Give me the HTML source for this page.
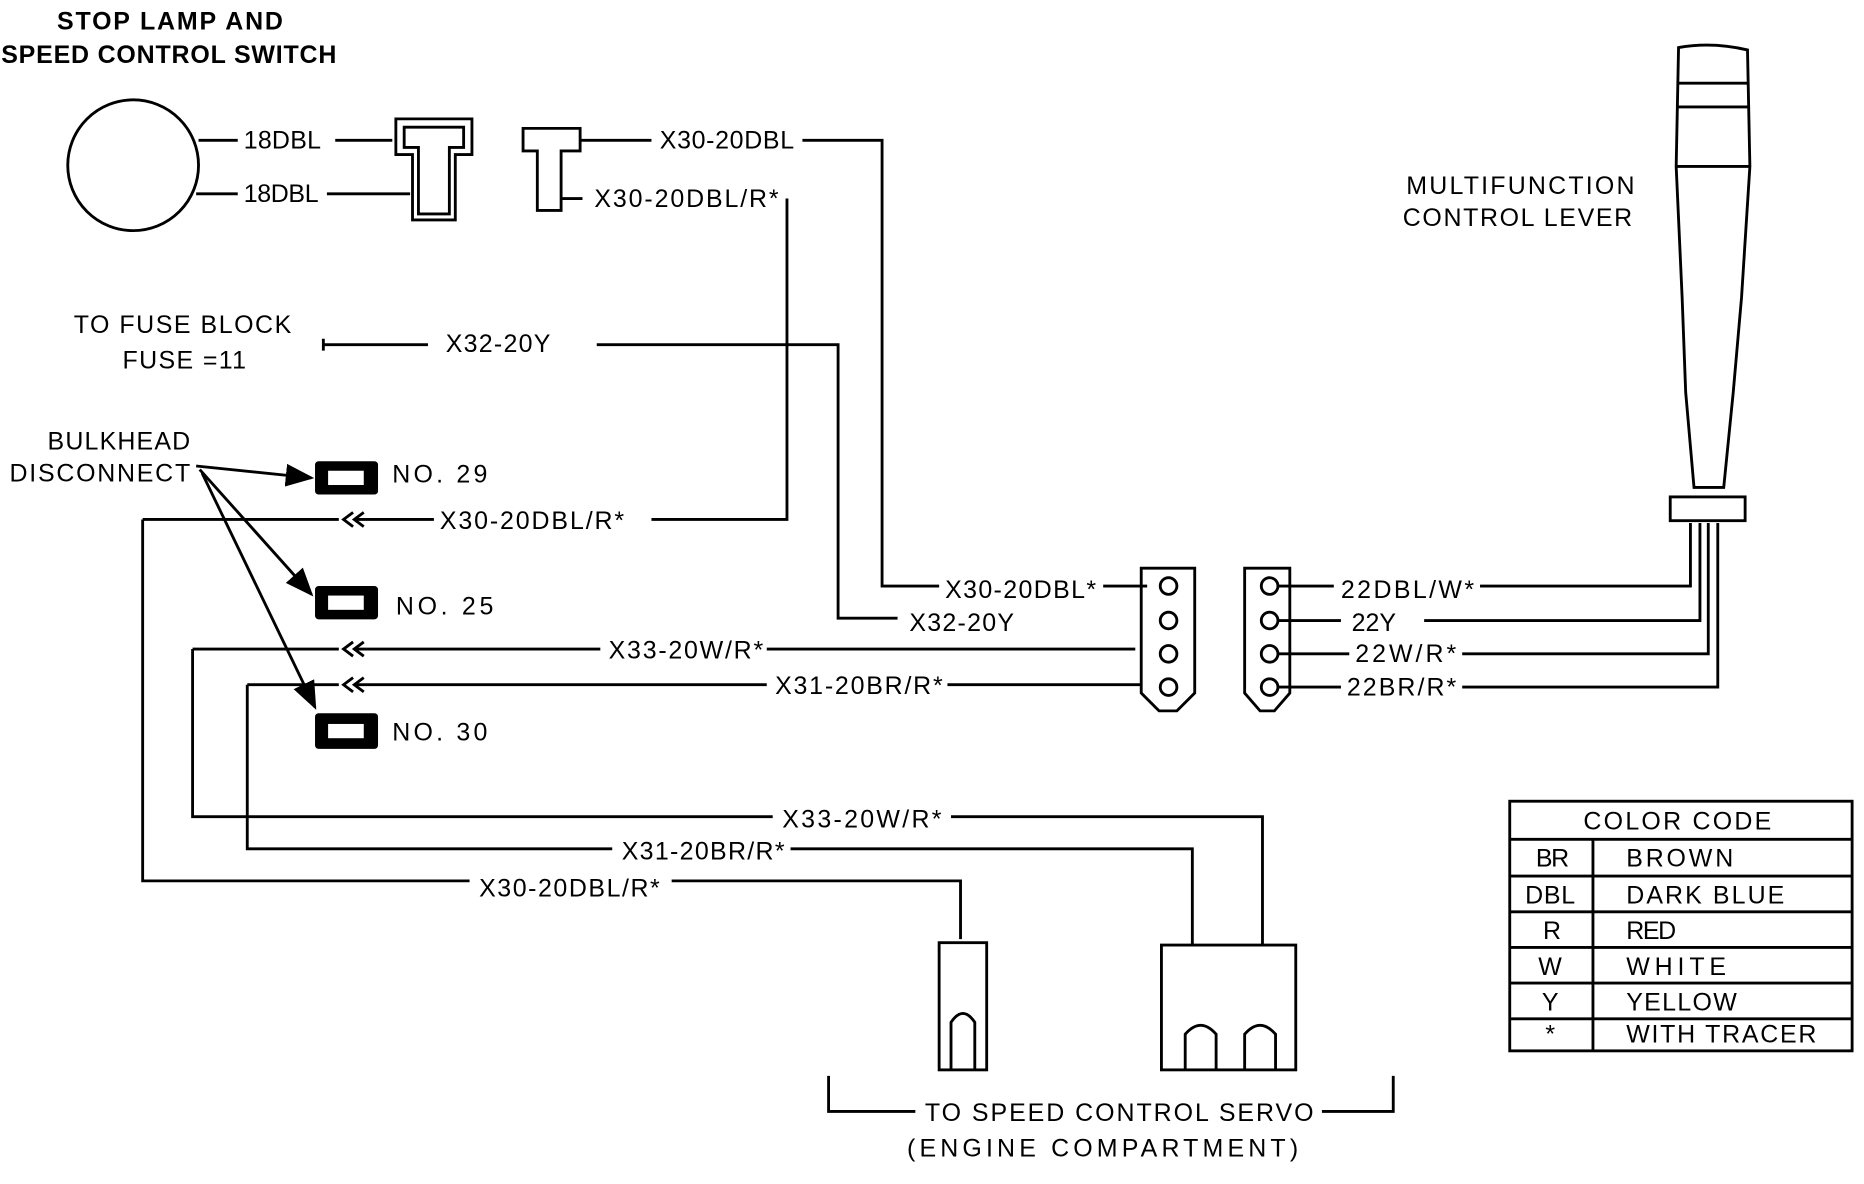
<!DOCTYPE html>
<html><head><meta charset="utf-8"><style>
html,body{margin:0;padding:0;background:#fff;}
svg{display:block;}
text{font-family:"Liberation Sans",sans-serif;font-size:21px;fill:#000;}
</style></head><body>
<svg width="1864" height="1184" viewBox="0 0 1568 996" preserveAspectRatio="none" xmlns="http://www.w3.org/2000/svg">
<defs><marker id="ah" markerWidth="10" markerHeight="8" refX="9" refY="4" orient="auto"><path d="M0,0 L10,4 L0,8 z" fill="#000"/></marker></defs>
<g fill="none" stroke="#000" stroke-width="2.4">
<circle cx="112" cy="139" r="55"/>
<path d="M167,118 H200 M282,118 H330 M165,163 H200 M275,163 H345"/>
<path d="M333,100 H397 V130 H383 V185 H347 V130 H333 Z"/>
<path d="M340,107 H390 V124 H378 V180 H352 V124 H340 Z"/>
<path d="M440,108 H488 V127 H472 V177 H452 V127 H440 Z"/>
<path d="M488,118 H548 M675,118 H742 V493 H790"/>
<path d="M472,167 H490 M662,167 V437 H548"/>
<path d="M272,290 H360 M272,285 V295 M502,290 H705 V520 H755"/>
<path d="M120,437 H285 M300,437 H365 M120,437 V741 H395 M565,741 H808 V790"/>
<path d="M162,546 H285 M300,546 H505 M645,546 H955 M162,546 V687 H650 M800,687 H1062 V795"/>
<path d="M208,576 H285 M300,576 H645 M797,576 H960 M208,576 V714 H515 M665,714 H1003 V795"/>
<path d="M297,431 L289,437 L297,443 M306,431 L298,437 L306,443"/>
<path d="M297,540 L289,546 L297,552 M306,540 L298,546 L306,552"/>
<path d="M297,570 L289,576 L297,582 M306,570 L298,576 L306,582"/>
<path d="M928,493 H965"/>
<path d="M165,392 L262,402" marker-end="url(#ah)"/>
<path d="M168,395 L262,500" marker-end="url(#ah)"/>
<path d="M170,398 L265,595" marker-end="url(#ah)"/>
<path d="M960,478 H1005 V583 L990,598 H975 L960,583 Z"/>
<circle cx="983" cy="493" r="7"/><circle cx="983" cy="522" r="7"/><circle cx="983" cy="550" r="7"/><circle cx="983" cy="578" r="7"/>
<path d="M1047,478 H1085 V583 L1072,598 H1060 L1047,583 Z"/>
<circle cx="1068" cy="493" r="7"/><circle cx="1068" cy="522" r="7"/><circle cx="1068" cy="550" r="7"/><circle cx="1068" cy="578" r="7"/>
<path d="M1075,493 H1122 M1245,493 H1422 V440 M1075,522 H1128 M1198,522 H1430 V440 M1075,550 H1135 M1230,550 H1437 V440 M1075,578 H1128 M1230,578 H1445 V440"/>
<path d="M1412,40 Q1440,35 1470,42 L1472,140 L1465,250 L1458,330 L1450,410 H1425 L1418,330 L1415,250 L1410,140 Z"/>
<path d="M1412,70 H1470 M1412,90 H1470 M1410,140 H1472"/>
<rect x="1405" y="418" width="63" height="20"/>
<rect x="790" y="793" width="40" height="107"/>
<path d="M800,900 V860 Q810,845 820,860 V900"/>
<rect x="977" y="795" width="113" height="105"/>
<path d="M997,900 V870 Q1010,855 1023,870 V900 M1047,900 V870 Q1060,855 1073,870 V900"/>
<path d="M697,905 V935 H770 M1112,935 H1172 V905"/>
<rect x="1270" y="674" width="288" height="210"/>
<path d="M1270,706 H1558 M1270,737 H1558 M1270,767 H1558 M1270,797 H1558 M1270,827 H1558 M1270,857 H1558 M1340,706 V884"/>
</g>
<g fill="#000">
<rect x="265" y="388" width="53" height="28" rx="3"/>
<rect x="265" y="493" width="53" height="28" rx="3"/>
<rect x="265" y="600" width="53" height="30" rx="3"/>
</g>
<g fill="#fff"><rect x="276" y="396" width="30" height="12"/><rect x="276" y="501" width="30" height="12"/><rect x="276" y="609" width="30" height="12"/></g>
<g>
<text x="48" y="25" textLength="190" style="font-weight:bold">STOP LAMP AND</text>
<text x="1" y="53" textLength="282" style="font-weight:bold">SPEED CONTROL SWITCH</text>
<text x="205" y="125" textLength="65">18DBL</text>
<text x="205" y="170" textLength="63">18DBL</text>
<text x="555" y="125" textLength="113">X30-20DBL</text>
<text x="500" y="174" textLength="155">X30-20DBL/R*</text>
<text x="62" y="280" textLength="183">TO FUSE BLOCK</text>
<text x="103" y="310" textLength="104">FUSE =11</text>
<text x="375" y="296" textLength="88">X32-20Y</text>
<text x="40" y="378" textLength="120">BULKHEAD</text>
<text x="8" y="405" textLength="152">DISCONNECT</text>
<text x="330" y="406" textLength="80">NO. 29</text>
<text x="333" y="517" textLength="82">NO. 25</text>
<text x="330" y="623" textLength="80">NO. 30</text>
<text x="370" y="445" textLength="155">X30-20DBL/R*</text>
<text x="512" y="554" textLength="130">X33-20W/R*</text>
<text x="652" y="584" textLength="141">X31-20BR/R*</text>
<text x="795" y="503" textLength="127">X30-20DBL*</text>
<text x="765" y="531" textLength="88">X32-20Y</text>
<text x="658" y="696" textLength="134">X33-20W/R*</text>
<text x="523" y="723" textLength="137">X31-20BR/R*</text>
<text x="403" y="754" textLength="152">X30-20DBL/R*</text>
<text x="1128" y="503" textLength="112">22DBL/W*</text>
<text x="1137" y="531">22Y</text>
<text x="1140" y="557" textLength="85">22W/R*</text>
<text x="1133" y="585" textLength="92">22BR/R*</text>
<text x="1183" y="163" textLength="192">MULTIFUNCTION</text>
<text x="1180" y="190" textLength="193">CONTROL LEVER</text>
<text x="778" y="943" textLength="327">TO SPEED CONTROL SERVO</text>
<text x="763" y="973" textLength="329">(ENGINE COMPARTMENT)</text>
<text x="1332" y="698" textLength="158">COLOR CODE</text>
<text x="1292" y="729" textLength="28">BR</text><text x="1368" y="729" textLength="90">BROWN</text>
<text x="1283" y="760" textLength="42">DBL</text><text x="1368" y="760" textLength="133">DARK BLUE</text>
<text x="1298" y="790">R</text><text x="1368" y="790" textLength="42">RED</text>
<text x="1294" y="820">W</text><text x="1368" y="820" textLength="84">WHITE</text>
<text x="1297" y="850">Y</text><text x="1368" y="850" textLength="93">YELLOW</text>
<text x="1300" y="877">*</text><text x="1368" y="877" textLength="160">WITH TRACER</text>
</g>
</svg>
</body></html>
